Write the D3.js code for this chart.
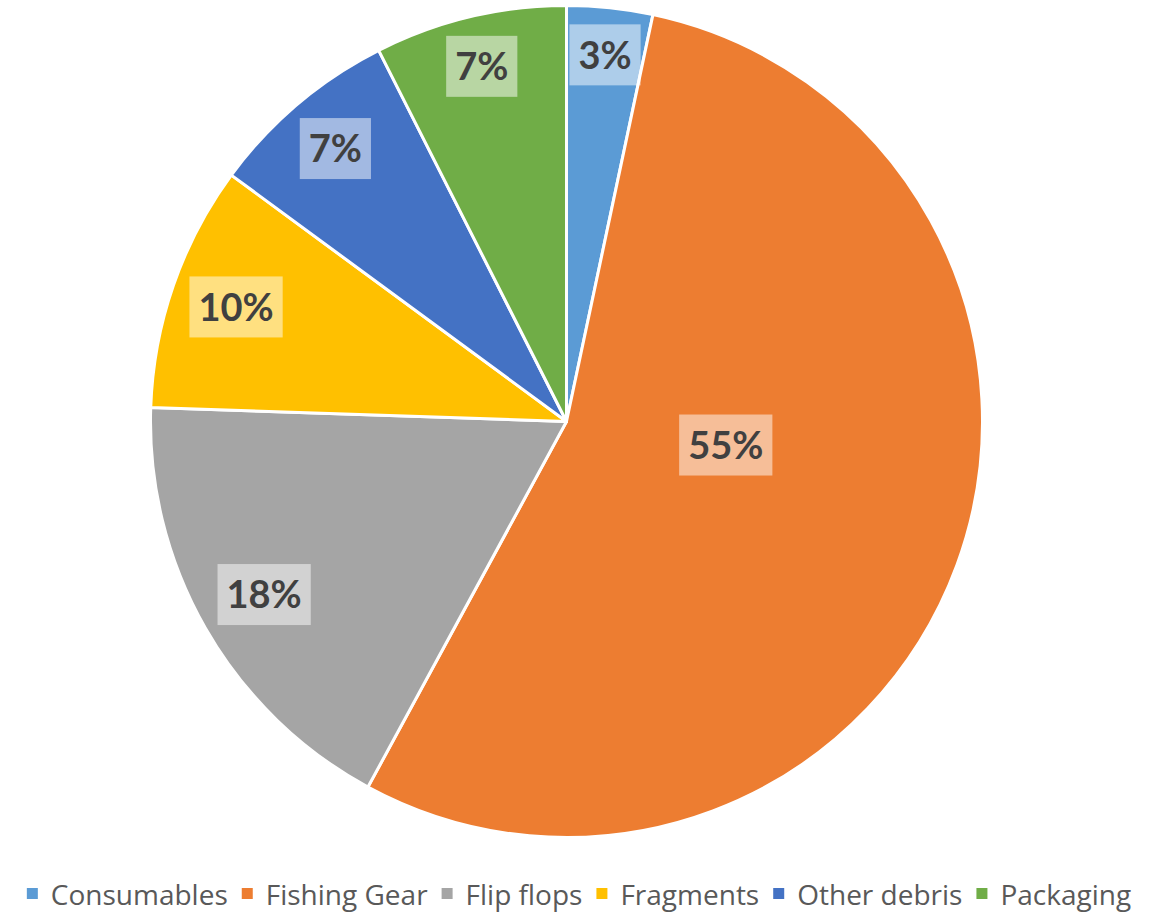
<!DOCTYPE html>
<html>
<head>
<meta charset="utf-8">
<script src="https://cdn.jsdelivr.net/npm/d3@7"></script>
<style>
  html, body { margin: 0; padding: 0; background: #fff; }
  svg { display: block; }
</style>
</head>
<body>
<svg id="chart" width="1161" height="912"></svg>
<script>
// data (share of items, %)
const categories = ["Consumables", "Fishing Gear", "Flip flops", "Fragments", "Other debris", "Packaging"];
const values = [3.33, 54.55, 17.6, 9.55, 7.45, 7.45];
const colors = ["#5B9BD5", "#ED7D31", "#A5A5A5", "#FFC000", "#4472C4", "#70AD47"];

// the big slice gets an Excel "best fit" label, the others sit at inside end
const bestFit = { "Fishing Gear": { angle: 98.4, r: 0.387 } };

const width = 1161, height = 912;
const cx = 566.5, cy = 421.5, radius = 416;
const svg = d3.select("#chart");

const total = d3.sum(values);
const slices = categories.map((name, i) => ({ name, value: values[i], color: colors[i] }));

const pie = d3.pie().sort(null).value(d => d.value);
const arc = d3.arc().innerRadius(0).outerRadius(radius);
const arcs = pie(slices);

const g = svg.append("g").attr("transform", `translate(${cx},${cy})`);

g.selectAll(".slice")
    .data(arcs)
    .join("path")
    .attr("class", "slice")
    .attr("d", arc)
    .attr("fill", d => d.data.color)
    .attr("stroke", "#fff")
    .attr("stroke-width", 3)
    .attr("stroke-linejoin", "round");

const fmt = v => Math.round(v / total * 100) + "%";
const padX = 9, boxH = 61, edgePad = 12;

const labels = g.selectAll(".label")
    .data(arcs)
    .join("g")
    .attr("class", "label");

labels.append("rect");
labels.append("text")
    .attr("text-anchor", "middle")
    .attr("dy", "0.36em")
    .style("font", "bold 38px Lato, 'Open Sans', sans-serif")
    .style("fill", "#404040")
    .text(d => fmt(d.value));

labels.each(function(d) {
    const sel = d3.select(this);
    const tw = sel.select("text").node().getComputedTextLength();
    const w = tw + 2 * padX, h = boxH;
    let x, y;
    const fit = bestFit[d.data.name];
    if (fit) {
        const a = fit.angle * Math.PI / 180;
        x = Math.sin(a) * fit.r * radius;
        y = -Math.cos(a) * fit.r * radius;
    } else {
        // push the box out along the bisector until its outer corner nears the rim
        const a = (d.startAngle + d.endAngle) / 2;
        const ux = Math.sin(a), uy = -Math.cos(a);
        const hx = w / 2, hy = h / 2;
        const target = radius - edgePad;
        let lo = 0, hi = radius;
        for (let k = 0; k < 40; k++) {
            const m = (lo + hi) / 2;
            const px = Math.abs(m * ux) + hx, py = Math.abs(m * uy) + hy;
            if (Math.hypot(px, py) > target) hi = m; else lo = m;
        }
        x = lo * ux;
        y = lo * uy;
    }
    sel.attr("transform", `translate(${x},${y})`);
    sel.select("rect")
        .attr("x", -w / 2).attr("y", -h / 2)
        .attr("width", w).attr("height", h)
        .attr("fill", "#fff")
        .attr("fill-opacity", 0.5);
});

// legend
const legend = svg.append("g").attr("class", "legend");
const baseline = 905, sq = 11, sqGap = 13, itemGap = 14;
const items = legend.selectAll(".item")
    .data(slices)
    .join("g")
    .attr("class", "item");

items.append("rect")
    .attr("width", sq).attr("height", sq)
    .attr("y", 888)
    .attr("fill", d => d.color);

items.append("text")
    .attr("x", sq + sqGap)
    .attr("y", baseline)
    .style("font", "28px 'Open Sans', sans-serif")
    .style("fill", "#595959")
    .text(d => d.name);

let offset = 0;
items.each(function() {
    const sel = d3.select(this);
    const tw = sel.select("text").node().getComputedTextLength();
    sel.attr("transform", `translate(${offset},0)`);
    offset += sq + sqGap + tw + itemGap;
});
offset -= itemGap;
legend.attr("transform", `translate(${(27 + 1131) / 2 - offset / 2},0)`);
</script>
</body>
</html>
